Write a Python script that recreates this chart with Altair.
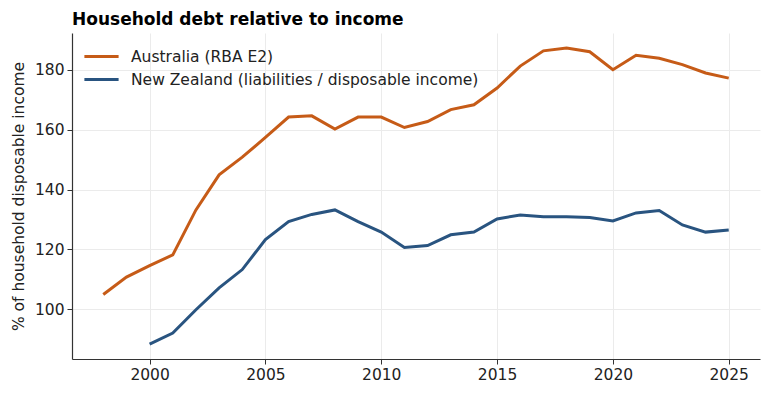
import altair as alt
import pandas as pd

years_au = list(range(1998, 2026))
au = [105.0, 110.8, 114.6, 118.2, 133.2, 144.9, 150.8, 157.4, 164.2, 164.6,
      160.2, 164.2, 164.2, 160.7, 162.7, 166.7, 168.3, 173.9, 181.2, 186.3,
      187.2, 186.0, 180.0, 184.8, 183.8, 181.7, 178.9, 177.2]
years_nz = list(range(2000, 2026))
nz = [88.4, 92.1, 99.9, 107.2, 113.3, 123.3, 129.3, 131.7, 133.2, 129.3,
      125.8, 120.7, 121.3, 124.9, 125.8, 130.2, 131.5, 130.9, 130.9, 130.7,
      129.5, 132.2, 133.0, 128.2, 125.8, 126.5]
series = ["Australia (RBA E2)", "New Zealand (liabilities / disposable income)"]
colors = ["#c65b17", "#295480"]

df = pd.concat([
    pd.DataFrame({"year": years_au, "value": au, "series": series[0]}),
    pd.DataFrame({"year": years_nz, "value": nz, "series": series[1]}),
])

font = "DejaVu Sans"

chart = alt.Chart(df).mark_line(strokeWidth=3).encode(
    x=alt.X("year:Q", scale=alt.Scale(domain=[1996.65, 2026.35], nice=False, zero=False),
            axis=alt.Axis(values=[2000, 2005, 2010, 2015, 2020, 2025], format="d", title=None)),
    y=alt.Y("value:Q", scale=alt.Scale(domain=[83.45, 192.25], nice=False, zero=False),
            axis=alt.Axis(values=[100, 120, 140, 160, 180], title="% of household disposable income")),
    color=alt.Color("series:N", scale=alt.Scale(domain=series, range=colors),
                    legend=alt.Legend(title=None, orient="none", legendX=19, legendY=13,
                                      symbolType="M-1.9,0H1.9",
                                      symbolStrokeWidth=3, symbolSize=324,
                                      labelFontSize=15.5, labelFont=font, labelColor="#222",
                                      labelLimit=600, rowPadding=4, labelOffset=19)),
).properties(
    width=688, height=326,
    title=alt.TitleParams("Household debt relative to income", anchor="start", frame="group",
                          font=font, fontSize=17, fontWeight="bold", color="#000", offset=4),
    autosize=alt.AutoSizeParams(type="none"),
    padding={"left": 64, "top": 25, "right": 4, "bottom": 35},
).configure_view(stroke=None).configure_axis(
    labelFont=font, labelFontSize=15.5, labelColor="#222", titleFont=font, titleFontSize=15.5,
    titleFontWeight="normal", titleColor="#222",
    grid=True, gridColor="#ebebeb", gridWidth=1,
    domainColor="#333", domainWidth=1.2, tickColor="#333", tickSize=5, labelPadding=3,
).configure_axisY(titlePadding=8)

chart.save("out.html", embed_options={"renderer": "svg", "actions": False})
